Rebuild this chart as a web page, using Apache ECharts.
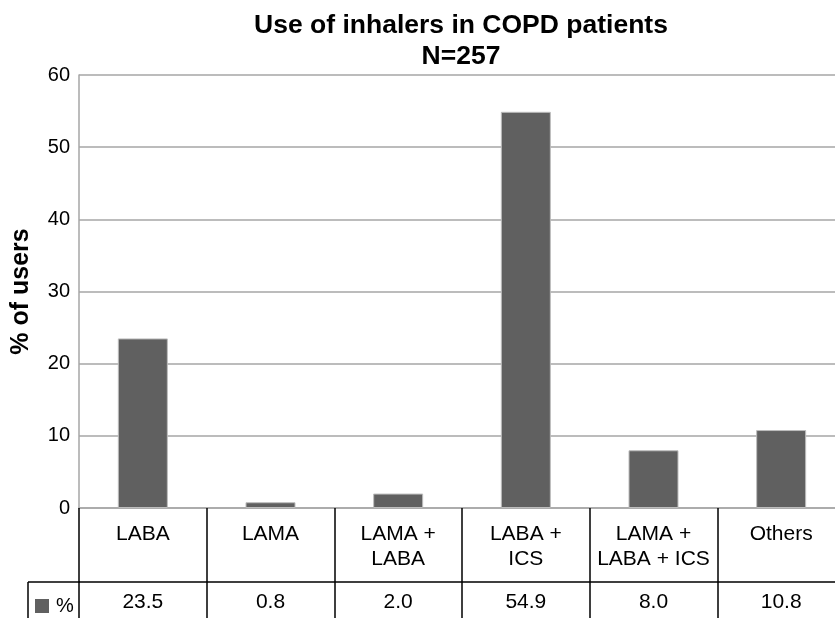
<!DOCTYPE html>
<html>
<head>
<meta charset="utf-8">
<script src="https://cdn.jsdelivr.net/npm/echarts@6/dist/echarts.min.js"></script>
<style>
  html, body { margin: 0; padding: 0; background: #fff; }
  #chart { width: 835px; height: 618px; }
</style>
</head>
<body>
<div id="chart"></div>
<script>
// categories shown in the data table under the axis
const inhalers = ['LABA', 'LAMA', 'LAMA +\nLABA', 'LABA +\nICS', 'LAMA +\nLABA + ICS', 'Others']
// % of users per inhaler type
const shares = [23.5, 0.8, 2.0, 54.9, 8.0, 10.8]
const yTicks = [0, 10, 20, 30, 40, 50, 60]

const font = 'Liberation Sans, Arial, sans-serif'
const myChart = echarts.init(document.getElementById('chart'))

const option = {
  animation: false,
  textStyle: { fontFamily: font, color: '#000' },
  title: {
    text: 'Use of inhalers in COPD patients\nN=257',
    left: 456,
    top: 5,
    textAlign: 'center',
    textStyle: { fontFamily: font, fontSize: 26.5, fontWeight: 'bold', color: '#000', lineHeight: 31 },
  },
  legend: {
    left: 30,
    top: 591,
    icon: 'rect',
    itemWidth: 14,
    itemHeight: 14,
    itemStyle: { borderWidth: 0 },
    textStyle: { fontFamily: font, fontSize: 20, color: '#000', padding: [0, 0, 0, 2] },
    data: ['%'],
  },
  // plot runs past the right edge of the picture, like the reference
  grid: { left: 79, width: 766, top: 75, bottom: 110, outerBoundsMode: 'none' },
  xAxis: [
    {
      type: 'category',
      data: inhalers,
      position: 'bottom',
      axisLine: { lineStyle: { color: '#a6a6a6', width: 1.5 } },
      axisTick: { show: true, length: 110, lineStyle: { color: '#000', width: 1.5 } },
      axisLabel: { interval: 0, fontSize: 21, color: '#000', margin: 14, lineHeight: 25, fontFamily: font },
    },
    {
      type: 'category',
      data: shares.map(v => v.toFixed(1)),
      position: 'bottom',
      offset: 74,
      axisLine: { show: true, lineStyle: { color: '#000', width: 1.5 } },
      axisTick: { show: false },
      axisLabel: { interval: 0, fontSize: 21, color: '#000', margin: 10, fontFamily: font },
    },
  ],
  yAxis: {
    type: 'value',
    min: yTicks[0],
    max: yTicks[yTicks.length - 1],
    interval: 10,
    name: '% of users',
    nameLocation: 'middle',
    nameGap: 45,
    nameTextStyle: { fontFamily: font, fontSize: 25, fontWeight: 'bold', color: '#000' },
    axisLine: { show: true, lineStyle: { color: '#a6a6a6', width: 1.5 } },
    axisTick: { show: false },
    axisLabel: { fontSize: 20, color: '#000', margin: 9, fontFamily: font },
    splitLine: { show: true, lineStyle: { color: '#a6a6a6', width: 1.5 } },
  },
  series: [
    {
      name: '%',
      type: 'bar',
      data: shares,
      barWidth: 50,
      itemStyle: { color: '#606060', borderColor: '#bdbdbd', borderWidth: 1 },
    },
  ],
  // table borders left of the plot, next to the legend key
  graphic: [
    { type: 'line', shape: { x1: 28, y1: 582, x2: 80, y2: 582 }, style: { stroke: '#000', lineWidth: 1.5 } },
    { type: 'line', shape: { x1: 28, y1: 582, x2: 28, y2: 618 }, style: { stroke: '#000', lineWidth: 1.5 } },
  ],
}

myChart.setOption(option)
</script>
</body>
</html>
